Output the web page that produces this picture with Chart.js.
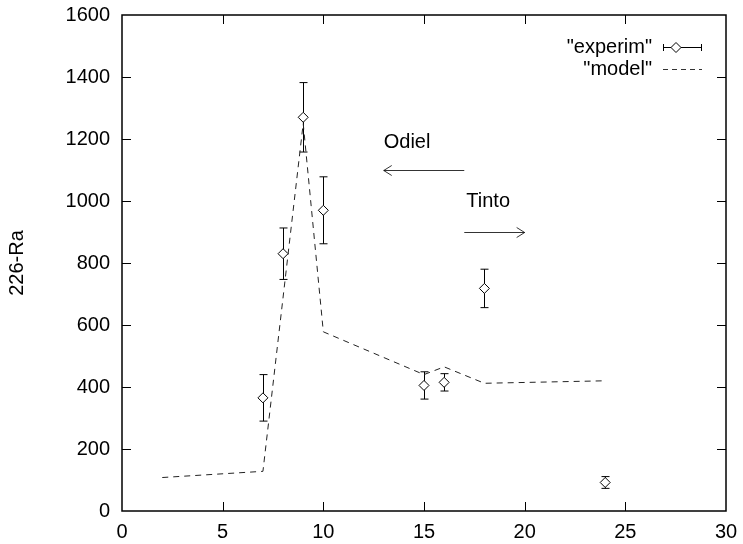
<!DOCTYPE html>
<html>
<head>
<meta charset="utf-8">
<script src="https://cdn.jsdelivr.net/npm/chart.js@4.4.0/dist/chart.umd.min.js"></script>
<style>
  html, body { margin: 0; padding: 0; background: #fff; }
</style>
</head>
<body>
<canvas id="chart" width="743" height="544"></canvas>
<script>
/* ---------- DATA ---------- */
const expX = [7, 8, 9, 10, 15, 16, 18, 24];
const expY = [365, 830, 1270, 970, 405, 415, 718, 92];
const expErr = [75, 83, 112, 108, 44, 28, 62, 19];

const modelX = [2, 7, 9, 10, 15, 16, 18, 24];
const modelY = [108, 128, 1250, 578, 440, 465, 412, 420];

const xTicks = [0, 5, 10, 15, 20, 25, 30];
const yTicks = [0, 200, 400, 600, 800, 1000, 1200, 1400, 1600];

const legendLabels = ['"experim"', '"model"'];
const yTitle = "226-Ra";

// annotations: [text, x, y] and arrows [fromX, toX, y]
const notes = [["Odiel", 13, 1190], ["Tinto", 17.1, 1000]];
const arrows = [[17, 13, 1100], [17, 20, 900]];

const FONT = '"Liberation Sans", Arial, Helvetica, sans-serif';

/* ---------- HELPERS ---------- */
function diamond(ctx, x, y, r) {
  ctx.beginPath();
  ctx.moveTo(x, y - r);
  ctx.lineTo(x + r, y);
  ctx.lineTo(x, y + r);
  ctx.lineTo(x - r, y);
  ctx.closePath();
  ctx.fillStyle = "#fff";
  ctx.fill();
  ctx.stroke();
}

/* error bars under the points */
const errorBars = {
  id: "errorBars",
  beforeDatasetsDraw(chart) {
    const { ctx, scales: { x, y } } = chart;
    ctx.save();
    ctx.strokeStyle = "#000";
    ctx.lineWidth = 1;
    ctx.beginPath();
    expX.forEach((v, i) => {
      const px = Math.round(x.getPixelForValue(v)) + 0.5;
      const top = y.getPixelForValue(expY[i] + expErr[i]);
      const bot = y.getPixelForValue(expY[i] - expErr[i]);
      ctx.moveTo(px, top); ctx.lineTo(px, bot);
      ctx.moveTo(px - 4, top); ctx.lineTo(px + 4, top);
      ctx.moveTo(px - 4, bot); ctx.lineTo(px + 4, bot);
    });
    ctx.stroke();
    ctx.restore();
  }
};

/* frame, inward ticks, legend, arrows */
const decor = {
  id: "decor",
  afterDatasetsDraw(chart) {
    const { ctx, chartArea: a, scales: { x, y } } = chart;
    ctx.save();
    ctx.strokeStyle = "#000";
    ctx.lineWidth = 1.5;
    ctx.strokeRect(a.left, a.top, a.right - a.left, a.bottom - a.top);

    ctx.lineWidth = 1;
    ctx.beginPath();
    xTicks.slice(1, -1).forEach((v) => {
      const px = Math.round(x.getPixelForValue(v)) + 0.5;
      ctx.moveTo(px, a.bottom); ctx.lineTo(px, a.bottom - 9);
      ctx.moveTo(px, a.top); ctx.lineTo(px, a.top + 9);
    });
    yTicks.slice(1, -1).forEach((v) => {
      const py = Math.round(y.getPixelForValue(v)) + 0.5;
      ctx.moveTo(a.left, py); ctx.lineTo(a.left + 9, py);
      ctx.moveTo(a.right, py); ctx.lineTo(a.right - 9, py);
    });
    ctx.stroke();

    // legend
    ctx.font = "20px " + FONT;
    ctx.fillStyle = "#000";
    ctx.textAlign = "right";
    ctx.textBaseline = "middle";
    ctx.fillText(legendLabels[0], 652, 47);
    ctx.fillText(legendLabels[1], 652, 69);
    ctx.beginPath();
    ctx.moveTo(663, 47.5); ctx.lineTo(702, 47.5);
    ctx.moveTo(663.5, 44); ctx.lineTo(663.5, 51);
    ctx.moveTo(701.5, 44); ctx.lineTo(701.5, 51);
    ctx.stroke();
    diamond(ctx, 676, 47.5, 5);
    ctx.setLineDash([5, 4]);
    ctx.strokeStyle = "#333";
    ctx.beginPath();
    ctx.moveTo(663, 69.5); ctx.lineTo(702, 69.5);
    ctx.stroke();
    ctx.setLineDash([]);

    // annotations
    ctx.strokeStyle = "#000";
    ctx.fillStyle = "#000";
    ctx.font = "20px " + FONT;
    ctx.textAlign = "left";
    notes.forEach(([t, vx, vy]) => {
      ctx.fillText(t, x.getPixelForValue(vx), y.getPixelForValue(vy));
    });
    ctx.lineWidth = 0.8;
    arrows.forEach(([x0, x1, vy]) => {
      const p0 = x.getPixelForValue(x0);
      const p1 = x.getPixelForValue(x1);
      const py = Math.round(y.getPixelForValue(vy)) + 0.5;
      const d = p1 > p0 ? -1 : 1;
      ctx.beginPath();
      ctx.moveTo(p0, py); ctx.lineTo(p1, py);
      ctx.moveTo(p1 + d * 8, py - 5); ctx.lineTo(p1, py); ctx.lineTo(p1 + d * 8, py + 5);
      ctx.stroke();
    });
    ctx.restore();
  }
};

/* ---------- CHART ---------- */
const ctx = document.getElementById("chart").getContext("2d");

new Chart(ctx, {
  type: "scatter",
  data: {
    datasets: [
      {
        label: legendLabels[0],
        data: expX.map((v, i) => ({ x: v, y: expY[i] })),
        pointStyle: "rectRot",
        pointRadius: 5,
        pointBorderWidth: 1,
        pointBorderColor: "#000",
        pointBackgroundColor: "#fff",
        order: 1
      },
      {
        label: legendLabels[1],
        data: modelX.map((v, i) => ({ x: v, y: modelY[i] })),
        showLine: true,
        borderColor: "#222",
        borderWidth: 1,
        borderDash: [6, 5],
        pointRadius: 0,
        order: 2
      }
    ]
  },
  options: {
    responsive: false,
    animation: false,
    devicePixelRatio: 1,
    layout: { padding: { top: 15, right: 17, left: 0, bottom: 0 } },
    plugins: { legend: { display: false }, tooltip: { enabled: false } },
    scales: {
      x: {
        type: "linear",
        min: 0,
        max: 30,
        afterBuildTicks: (s) => { s.ticks = xTicks.map((v) => ({ value: v })); },
        afterFit: (s) => { s.height = 33; s.paddingLeft = 0; s.paddingRight = 0; },
        grid: { display: false, drawTicks: false },
        border: { display: false },
        ticks: {
          color: "#000", padding: 9, font: { family: FONT, size: 20 },
          callback: (v) => String(v)
        }
      },
      y: {
        min: 0,
        max: 1600,
        afterBuildTicks: (s) => { s.ticks = yTicks.map((v) => ({ value: v })); },
        afterFit: (s) => { s.width = 122; s.paddingTop = 0; s.paddingBottom = 0; },
        grid: { display: false, drawTicks: false },
        border: { display: false },
        ticks: {
          color: "#000", padding: 12, font: { family: FONT, size: 20 },
          callback: (v) => String(v)
        },
        title: {
          display: true,
          text: yTitle,
          color: "#000",
          padding: { top: 5, bottom: 0 },
          font: { family: FONT, size: 20 }
        }
      }
    }
  },
  plugins: [errorBars, decor]
});
</script>
</body>
</html>
